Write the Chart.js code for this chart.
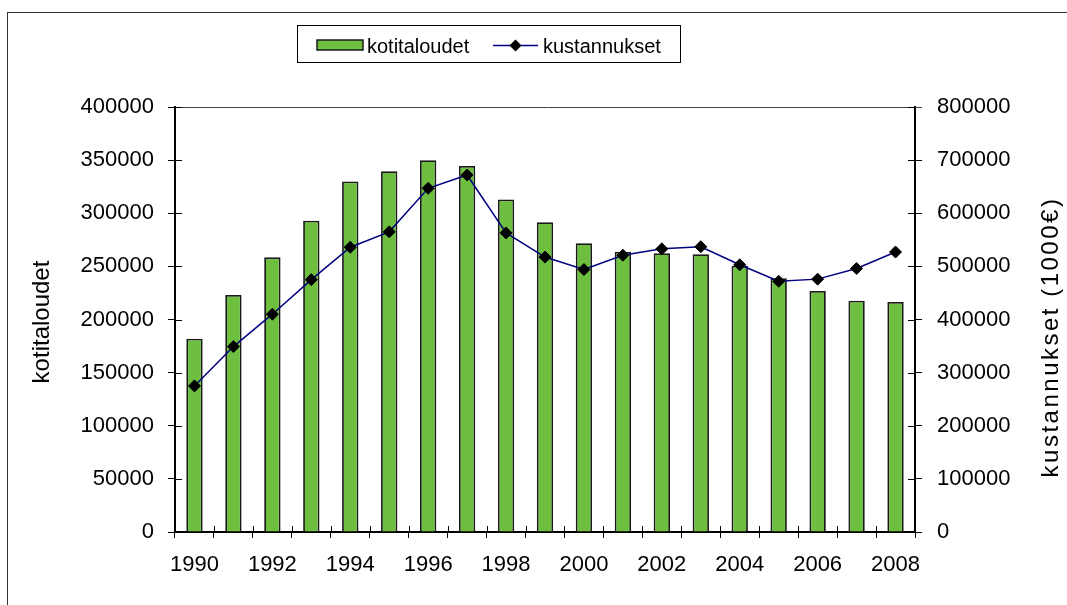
<!DOCTYPE html>
<html>
<head>
<meta charset="utf-8">
<script src="https://cdn.jsdelivr.net/npm/chart.js@4/dist/chart.umd.min.js"></script>
<style>
  body { margin: 0; background: #fff; }
  #wrap { width: 1067px; height: 605px; position: relative; }
</style>
</head>
<body>
<div id="wrap"><canvas id="myChart"></canvas></div>
<script>
// values
let years = ['1990','1991','1992','1993','1994','1995','1996','1997','1998','1999',
             '2000','2001','2002','2003','2004','2005','2006','2007','2008']
let households = [182000, 223000, 258500, 293000, 330000, 339500, 350000, 344500, 313000, 291500,
                  271700, 263800, 262300, 261400, 250600, 238800, 226800, 217700, 216500]
let costs = [275000, 349000, 410000, 475000, 536000, 565000, 647000, 672000, 563000, 517500,
             494000, 521000, 533000, 537000, 503000, 472000, 476000, 496000, 527000]
let leftTitle = 'kotitaloudet'
let rightTitle = 'kustannukset (1000€)'

const FONT = '"Liberation Sans", Arial, sans-serif'
const green = '#6EBE40'
const navy = '#000080'

function diamond(ctx, x, y, r) {
    ctx.beginPath()
    ctx.moveTo(x, y - r)
    ctx.lineTo(x + r, y)
    ctx.lineTo(x, y + r)
    ctx.lineTo(x - r, y)
    ctx.closePath()
    ctx.fill()
}

const extras = {
    id: 'extras',
    afterDraw(chart) {
        const ctx = chart.ctx
        const a = chart.chartArea
        const x = chart.scales.x, y = chart.scales.y, y1 = chart.scales.y1
        ctx.save()

        // outer frame
        ctx.strokeStyle = '#333'
        ctx.lineWidth = 1
        ctx.strokeRect(7.5, 12.5, 1200, 800)

        // top edge of plot
        ctx.strokeStyle = '#444'
        ctx.beginPath()
        ctx.moveTo(a.left, a.top + 0.5)
        ctx.lineTo(a.right + 7, a.top + 0.5)
        ctx.stroke()

        // inner half of the tick marks
        ctx.strokeStyle = '#000'
        ctx.beginPath()
        y.ticks.forEach((t, i) => {
            let p = Math.round(y.getPixelForTick(i)) + 0.5
            ctx.moveTo(a.left, p); ctx.lineTo(a.left + 7, p)
        })
        y1.ticks.forEach((t, i) => {
            let p = Math.round(y1.getPixelForTick(i)) + 0.5
            ctx.moveTo(a.right, p); ctx.lineTo(a.right - 7, p)
        })
        for (let i = 0; i <= years.length; i++) {
            let p = Math.round(x.getPixelForValue(i - 0.5)) + 0.5
            ctx.moveTo(p, a.bottom); ctx.lineTo(p, a.bottom - 6)
        }
        ctx.stroke()

        // axis titles
        ctx.fillStyle = '#000'
        ctx.textAlign = 'center'
        ctx.textBaseline = 'middle'
        ctx.font = '24px ' + FONT
        ctx.save()
        ctx.translate(42, 322)
        ctx.rotate(-Math.PI / 2)
        ctx.fillText(leftTitle, 0, 0)
        ctx.restore()
        ctx.save()
        ctx.translate(1051, 337)
        ctx.rotate(-Math.PI / 2)
        ctx.letterSpacing = '2.5px'
        ctx.font = '24px ' + FONT
        ctx.fillText(rightTitle, 0, 0)
        ctx.restore()

        // legend
        const bars = chart.data.datasets.find(d => d.type !== 'line')
        const line = chart.data.datasets.find(d => d.type === 'line')
        ctx.strokeStyle = '#000'
        ctx.lineWidth = 1
        ctx.strokeRect(297.5, 25.5, 383, 37)
        ctx.fillStyle = bars.backgroundColor
        ctx.fillRect(317, 40, 46, 10)
        ctx.strokeStyle = bars.borderColor
        ctx.lineWidth = 1.5
        ctx.strokeRect(317, 40, 46, 10)
        ctx.strokeStyle = line.borderColor
        ctx.lineWidth = 1.5
        ctx.beginPath()
        ctx.moveTo(493, 45.5); ctx.lineTo(538, 45.5)
        ctx.stroke()
        ctx.fillStyle = line.pointBackgroundColor
        diamond(ctx, 515.5, 45.5, 6)
        ctx.fillStyle = '#000'
        ctx.font = '20px ' + FONT
        ctx.textAlign = 'left'
        ctx.textBaseline = 'alphabetic'
        ctx.fillText(bars.label, 367, 53)
        ctx.fillText(line.label, 543, 53)

        ctx.restore()
    }
}

function initChart() {
    const ctx = document.getElementById('myChart')
    new Chart(ctx, {
        type: 'bar',
        data: {
            labels: years,
            datasets: [
                {
                    type: 'line',
                    label: 'kustannukset',
                    data: costs,
                    yAxisID: 'y1',
                    borderColor: navy,
                    borderWidth: 1.5,
                    pointStyle: 'rectRot',
                    pointRadius: 6,
                    pointBackgroundColor: '#000',
                    pointBorderColor: '#000',
                    pointBorderWidth: 1,
                    tension: 0,
                    order: 0
                },
                {
                    type: 'bar',
                    label: 'kotitaloudet',
                    data: households,
                    yAxisID: 'y',
                    backgroundColor: green,
                    borderColor: '#1a1a1a',
                    borderWidth: 1.8,
                    barPercentage: 0.42,
                    categoryPercentage: 1,
                    order: 1
                }
            ]
        },
        options: {
            responsive: true,
            maintainAspectRatio: false,
            animation: false,
            layout: { padding: { top: 107, left: 0, right: 0, bottom: 0 } },
            plugins: {
                legend: { display: false },
                tooltip: { enabled: false }
            },
            scales: {
                x: {
                    offset: true,
                    grid: { offset: true, drawOnChartArea: false, tickLength: 6, color: '#000' },
                    border: { color: '#000', width: 2 },
                    ticks: {
                        autoSkip: false,
                        maxRotation: 0,
                        padding: 14,
                        color: '#000',
                        font: { family: FONT, size: 22 },
                        callback: (v, i) => i % 2 === 0 ? years[i] : ''
                    },
                    afterFit: s => { s.height = 73 }
                },
                y: {
                    position: 'left',
                    min: 0,
                    max: 400000,
                    grid: { drawOnChartArea: false, tickLength: 7, color: '#000' },
                    border: { color: '#000', width: 2 },
                    ticks: {
                        stepSize: 50000,
                        padding: 14,
                        color: '#000',
                        font: { family: FONT, size: 22 },
                        callback: v => String(v)
                    },
                    afterFit: s => { s.width = 175 }
                },
                y1: {
                    position: 'right',
                    min: 0,
                    max: 800000,
                    grid: { drawOnChartArea: false, tickLength: 7, color: '#000' },
                    border: { color: '#000', width: 2 },
                    ticks: {
                        stepSize: 100000,
                        padding: 15,
                        color: '#000',
                        font: { family: FONT, size: 22 },
                        callback: v => String(v)
                    },
                    afterFit: s => { s.width = 152 }
                }
            }
        },
        plugins: [extras]
    })
}

window.onload = () => {
    initChart()
}
</script>
</body>
</html>
